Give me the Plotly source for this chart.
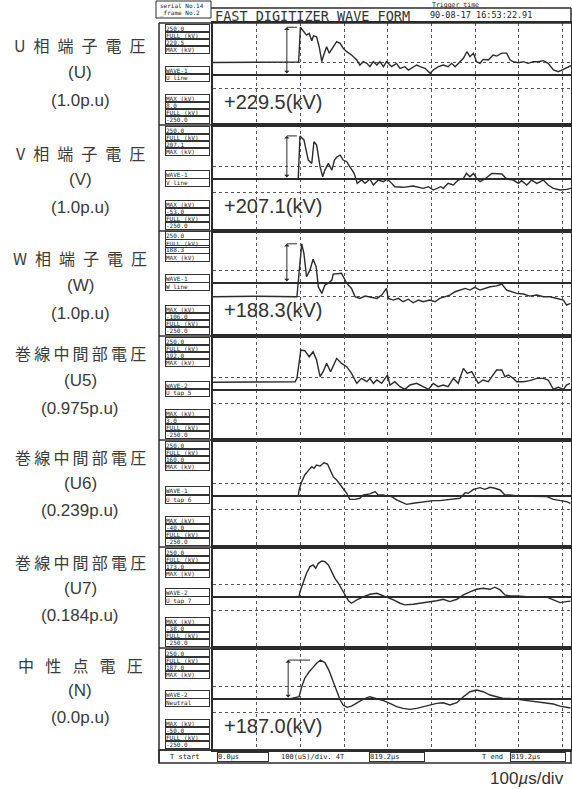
import plotly.graph_objects as go

# ---------------- recorded waveforms: time (µs) and voltage (kV) ----------------
t_u = [0, 60, 120, 190, 196, 200, 205, 214, 220, 226, 230, 237, 243, 249, 252, 260, 266, 275, 283, 291,
       298, 306, 317, 329, 336, 344, 352, 359, 367, 375, 382, 390, 397, 409, 420, 428, 439, 447, 458, 466,
       474, 485, 497, 504, 516, 527, 538, 546, 554, 565, 573, 581, 588, 596, 603, 611, 618, 630, 641, 649,
       661, 672, 680, 687, 699, 710, 721, 733, 744, 756, 767, 779, 790, 802, 813, 819]
v_u = [60, 61, 60, 60, 62, 229.5, 216, 192, 200, 165, 188, 184, 136, 64, 88, 136, 105, 136, 160, 152,
       128, 112, 96, 72, 48, 64, 56, 40, 64, 48, 64, 40, 64, 40, 56, 32, 40, 24, 40, 48,
       40, 32, 8, 24, 40, 48, 40, 56, 40, 64, 80, 112, 88, 105, 64, 56, 75, 72, 96, 91,
       105, 105, 72, 64, 59, 64, 56, 64, 64, 69, 56, 24, 16, 27, 40, 45]

t_v = [0, 195, 199, 208, 218, 226, 231, 237, 245, 251, 256, 264, 272, 278, 284, 291, 298, 306, 313, 323,
       330, 340, 348, 359, 367, 378, 390, 399, 409, 416, 435, 458, 481, 493, 504, 521, 527, 538, 550, 561,
       573, 580, 588, 596, 603, 611, 622, 638, 661, 672, 687, 699, 706, 718, 729, 741, 756, 767, 779, 794,
       809, 819]
v_v = [0, 0, 207.1, 188, 91, 75, 179, 164, 59, 11, 43, 75, 43, 91, 107, 115, 91, 83, 59, 27,
       -21, -5, -21, 0, -29, -5, -13, 0, -21, -37, -40, -34, -45, -37, -53, -37, -45, -21, -29, -5,
       3, 27, 11, 27, 3, -13, 0, 27, 24, 0, -5, -21, -8, -29, -5, -21, -5, -29, -45, -53,
       -50, -45]

t_w = [0, 100, 192, 195, 203, 208, 214, 222, 229, 236, 241, 249, 256, 264, 272, 275, 287, 294, 306, 317,
       325, 336, 348, 359, 375, 386, 397, 401, 413, 424, 435, 447, 458, 470, 481, 496, 508, 519, 531, 542,
       554, 565, 577, 588, 599, 611, 622, 634, 649, 661, 672, 683, 695, 710, 725, 741, 756, 771, 786, 802,
       809, 818]
v_w = [-66, -64, -66, 14, 188.3, 143, 30, 63, 114, 78, -18, -50, -10, -1, 14, 43, 47, 47, -1, -26,
       -66, -74, -63, -66, -74, -58, -26, -74, -82, -74, -90, -78, -95, -82, -90, -82, -90, -74, -66, -58,
       -42, -34, -26, -34, -21, -34, -26, -18, -14, -5, -34, -42, -50, -53, -63, -58, -66, -66, -74, -82,
       -106, -98]

t_u5 = [0, 100, 188, 192, 201, 210, 220, 229, 237, 245, 252, 260, 269, 283, 294, 306, 317, 329, 340, 352,
        359, 367, 375, 386, 399, 405, 416, 428, 439, 451, 466, 481, 493, 504, 515, 527, 538, 550, 561, 573,
        582, 592, 599, 607, 618, 630, 638, 649, 661, 668, 676, 687, 695, 710, 725, 741, 756, 767, 779, 790,
        802, 809, 817]
v_u5 = [37, 39, 40, 56, 192, 189, 160, 184, 144, 64, 88, 128, 88, 152, 128, 112, 80, 32, 56, 40,
        56, 32, 48, 32, 72, 24, 40, 16, 3, 24, 32, 16, 3, 32, 16, 24, 16, 56, 32, 104,
        80, 88, 64, 32, 48, 40, 64, 96, 96, 64, 72, 56, 40, 40, 45, 56, 56, 48, 3, 13,
        3, 24, 32]

t_u6 = [0, 100, 195, 197, 203, 210, 218, 226, 231, 237, 245, 254, 262, 268, 275, 283, 291, 298, 306, 313,
        325, 336, 344, 359, 371, 378, 390, 397, 409, 420, 432, 443, 458, 474, 489, 504, 519, 535, 550, 565,
        577, 584, 596, 611, 622, 634, 645, 657, 668, 680, 695, 718, 741, 764, 779, 794, 809, 818]
v_u6 = [0, 2, 0, 29, 69, 101, 122, 141, 133, 149, 144, 160, 154, 125, 93, 77, 53, 37, 13, -16,
        -16, -11, 5, 10, 21, 5, 5, 0, -3, -19, -32, -40, -35, -30, -27, -22, -22, -19, -16, -11,
        16, 13, 32, 40, 32, 42, 37, 29, 5, 5, 0, 0, 0, -3, -16, -22, -27, -35]

t_u7 = [0, 100, 197, 199, 207, 214, 222, 229, 235, 241, 249, 256, 264, 272, 279, 287, 294, 302, 310, 317,
        329, 344, 359, 375, 390, 401, 413, 428, 439, 458, 478, 496, 512, 527, 542, 558, 573, 588, 603, 618,
        634, 645, 657, 668, 680, 695, 718, 741, 764, 779, 794, 809, 818]
v_u7 = [0, 1, 0, 25, 74, 114, 146, 154, 138, 162, 173, 170, 154, 122, 90, 66, 42, 10, -18, -30,
        -14, 1, 13, 18, 5, -1, -14, -30, -38, -35, -30, -22, -18, -11, -22, -11, 10, 25, 37, 42,
        37, 47, 34, 10, 5, 5, 1, 1, -1, -14, -27, -22, -20]

t_n = [0, 100, 150, 180, 197, 203, 210, 220, 229, 237, 246, 256, 265, 274, 283, 291, 298, 307, 317, 329,
       344, 359, 375, 390, 405, 420, 435, 451, 466, 481, 496, 512, 527, 542, 558, 573, 588, 603, 618, 634,
       649, 664, 680, 695, 718, 741, 764, 779, 794, 809, 818]
v_n = [0, 0, 1, 3, 11, 59, 100, 131, 152, 172, 187.0, 175, 139, 91, 35, -5, -29, -40, -34, -18,
       -1, 11, 3, -8, -21, -37, -45, -50, -45, -37, -29, -21, -18, -29, -18, 11, 35, 43, 35, 19,
       11, 3, 3, -1, -8, -13, -18, -24, -34, -40, -43]

# ---------------- channel labels ----------------
ch_names = ["U\u2002相\u2002端\u2002子\u2002電\u2002圧",
            "V\u2002相\u2002端\u2002子\u2002電\u2002圧",
            "W\u2002相\u2002端\u2002子\u2002電\u2002圧",
            "巻\u2009線\u2009中\u2009間\u2009部\u2009電\u2009圧",
            "巻\u2009線\u2009中\u2009間\u2009部\u2009電\u2009圧",
            "巻\u2009線\u2009中\u2009間\u2009部\u2009電\u2009圧",
            "中\u2002\u2009性\u2002\u2009点\u2002\u2009電\u2002\u2009圧"]
ch_codes = ["(U)", "(V)", "(W)", "(U5)", "(U6)", "(U7)", "(N)"]
ch_pu = ["(1.0p.u)", "(1.0p.u)", "(1.0p.u)", "(0.975p.u)", "(0.239p.u)", "(0.184p.u)", "(0.0p.u)"]
wave_ids = ["WAVE-1", "WAVE-1", "WAVE-1", "WAVE-2", "WAVE-1", "WAVE-2", "WAVE-2"]
line_ids = ["U line", "V line", "W line", "U tap 5", "U tap 6", "U tap 7", "Neutral"]
peak_kv = [229.5, 207.1, 188.3, None, None, None, 187.0]
full_kv = 250.0
t_end = 819.2

series = [(t_u, v_u), (t_v, v_v), (t_w, v_w), (t_u5, v_u5), (t_u6, v_u6), (t_u7, v_u7), (t_n, v_n)]

# ---------------- page geometry (pixels) ----------------
W, H = 572, 789
X0, X1 = 213, 571          # plotting area left/right
FRAME_L = 159
EDGES = [23, 125, 231, 336, 440, 547, 648, 750]
ZERO = [75, 179, 283, 390, 496, 597, 699]
LABEL_Y = [(45, 72, 100), (153, 180, 208), (258, 285, 313), (353, 380, 408),
           (457, 483, 510), (562, 588, 615), (665, 690, 717)]
ARROW_T = [169, 169, 169, None, None, None, 172]
BAR_T = [192, 192, 192, None, None, None, 222]
INK = "#2b2b2b"


def px(x):
    return x / W


def py(y):
    return 1 - y / H


def note(text, x, y, size, family="Liberation Sans", xanchor="center", color="#333", **kw):
    d = dict(text=text, x=px(x), y=py(y), xref="paper", yref="paper", xanchor=xanchor,
             yanchor="middle", showarrow=False, font=dict(family=family, size=size, color=color))
    d.update(kw)
    return d


def small_box(text, cx, cy, boxed=True, width=43, size=6):
    return note(text, cx, cy, size, family="DejaVu Sans Mono", color="#222", align="left",
                width=width, height=size + 1, borderpad=0,
                bordercolor="#333" if boxed else "rgba(0,0,0,0)", borderwidth=1)


fig = go.Figure()
annotations = []
shapes = []
layout_axes = {}

for i, (t, v) in enumerate(series):
    n = "" if i == 0 else str(i + 1)
    top, bot, z = EDGES[i], EDGES[i + 1], ZERO[i]
    kv_per_px = full_kv / 52.0
    yrange = [-(bot - z) * kv_per_px, (z - top) * kv_per_px]

    fig.add_trace(go.Scatter(x=t, y=v, mode="lines", xaxis="x" + n, yaxis="y" + n,
                             line=dict(color=INK, width=1.4), hoverinfo="skip"))

    layout_axes["xaxis" + n] = dict(
        domain=[px(X0), px(X1)], range=[0, t_end], anchor="y" + n,
        showticklabels=False, ticks="", tick0=0, dtick=100,
        showgrid=True, griddash="dot", gridcolor="#555", gridwidth=1,
        zeroline=False, showline=True, mirror=True, linecolor=INK, linewidth=1.5,
        fixedrange=True)
    layout_axes["yaxis" + n] = dict(
        domain=[py(bot), py(top)], range=yrange, anchor="x" + n,
        showticklabels=False, ticks="", tickvals=[-full_kv / 4, full_kv / 4],
        showgrid=True, griddash="dot", gridcolor="#555", gridwidth=1,
        zeroline=True, zerolinecolor=INK, zerolinewidth=1.6,
        showline=True, mirror=True, linecolor=INK, linewidth=1.5, fixedrange=True)

    # channel caption on the left
    ly = LABEL_Y[i]
    annotations.append(note(ch_names[i], 80, ly[0], 16, family="Noto Sans CJK JP", color="#3a3a3a"))
    annotations.append(note(ch_codes[i], 80, ly[1], 17, color="#3a3a3a"))
    annotations.append(note(ch_pu[i], 80, ly[2], 17, color="#3a3a3a"))

    # instrument read-out boxes
    top_rows = [f"{full_kv:.1f}", "FULL (kV)", f"{max(v):.1f}", "MAX (kV)"]
    for k, txt in enumerate(top_rows):
        annotations.append(small_box(txt, 187, top + 5 + 7 * k))
    annotations.append(small_box(wave_ids[i], 187, z - 5))
    annotations.append(small_box(line_ids[i], 187, z + 3))
    bot_rows = ["MAX (kV)", f"{min(v):.1f}", "FULL (kV)", f"{-full_kv:.1f}"]
    for k, txt in enumerate(bot_rows):
        annotations.append(small_box(txt, 187, bot - 27 + 7 * k))

    # peak marker and value
    if peak_kv[i] is not None:
        xa, ya = "x" + n, "y" + n
        annotations.append(dict(x=ARROW_T[i], y=peak_kv[i], ax=ARROW_T[i], ay=0,
                                xref=xa, yref=ya, axref=xa, ayref=ya, text="",
                                showarrow=True, arrowhead=1, arrowside="end+start",
                                arrowsize=0.9, arrowwidth=1, arrowcolor=INK,
                                standoff=0, startstandoff=0))
        shapes.append(dict(type="line", xref=xa, yref=ya, x0=ARROW_T[i], x1=BAR_T[i],
                           y0=peak_kv[i], y1=peak_kv[i], line=dict(color=INK, width=1)))
        annotations.append(note(f"+{peak_kv[i]:.1f}(kV)", 222, z + 27, 20, xanchor="left"))

# frame lines
line = dict(color=INK, width=1.5)
for e in EDGES:
    shapes.append(dict(type="line", xref="paper", yref="paper",
                       x0=px(FRAME_L), x1=px(X1), y0=py(e), y1=py(e), line=line))
shapes.append(dict(type="line", xref="paper", yref="paper", x0=px(FRAME_L), x1=px(FRAME_L),
                   y0=py(EDGES[0]), y1=py(763), line=line))
shapes.append(dict(type="rect", xref="paper", yref="paper", x0=px(FRAME_L), x1=px(X1),
                   y0=py(763), y1=py(EDGES[-1]), line=line))
shapes.append(dict(type="line", xref="paper", yref="paper", x0=px(211), x1=px(X1),
                   y0=py(8), y1=py(8), line=line))
shapes.append(dict(type="line", xref="paper", yref="paper", x0=px(X1), x1=px(X1),
                   y0=py(8), y1=py(EDGES[0]), line=line))
shapes.append(dict(type="rect", xref="paper", yref="paper", x0=px(156), x1=px(211),
                   y0=py(18), y1=py(1), line=dict(color=INK, width=1)))

# header
annotations.append(note("serial No.14", 158, 5, 6, family="DejaVu Sans Mono", xanchor="left", color="#222"))
annotations.append(note("_frame No.2", 158, 13, 6, family="DejaVu Sans Mono", xanchor="left", color="#222"))
annotations.append(note("FAST DIGITIZER WAVE FORM", 312, 16, 13.5, family="DejaVu Sans Mono"))
annotations.append(note("Trigger time", 430, 5, 6.5, family="DejaVu Sans Mono", xanchor="left", color="#222"))
annotations.append(note("90-08-17 16:53:22.91", 428, 15.5, 8.5, family="DejaVu Sans Mono", xanchor="left", color="#222"))

# footer read-out bar
annotations.append(note("T start", 168, 757, 7, family="DejaVu Sans Mono", xanchor="left", color="#222"))
annotations.append(note("0.0\u00b5s", 243, 757, 7, family="DejaVu Sans Mono", color="#222",
                        width=50, height=8, borderpad=0, bordercolor="#333", borderwidth=1, align="left"))
annotations.append(note("100(uS)/div. 4T", 279, 757, 7, family="DejaVu Sans Mono", xanchor="left", color="#222"))
annotations.append(note(f"{t_end:.1f}\u00b5s", 397, 757, 7, family="DejaVu Sans Mono", color="#222",
                        width=54, height=8, borderpad=0, bordercolor="#333", borderwidth=1, align="left"))
annotations.append(note("T end", 480, 757, 7, family="DejaVu Sans Mono", xanchor="left", color="#222"))
annotations.append(note(f"{t_end:.1f}\u00b5s", 538, 757, 7, family="DejaVu Sans Mono", color="#222",
                        width=54, height=8, borderpad=0, bordercolor="#333", borderwidth=1, align="left"))

annotations.append(note("100<i>\u00b5</i>s/div", 566, 778, 17, xanchor="right"))

fig.update_layout(
    width=W, height=H, margin=dict(l=0, r=0, t=0, b=0),
    paper_bgcolor="white", plot_bgcolor="white", showlegend=False,
    annotations=annotations, shapes=shapes, **layout_axes)

fig.write_html("out.html")
